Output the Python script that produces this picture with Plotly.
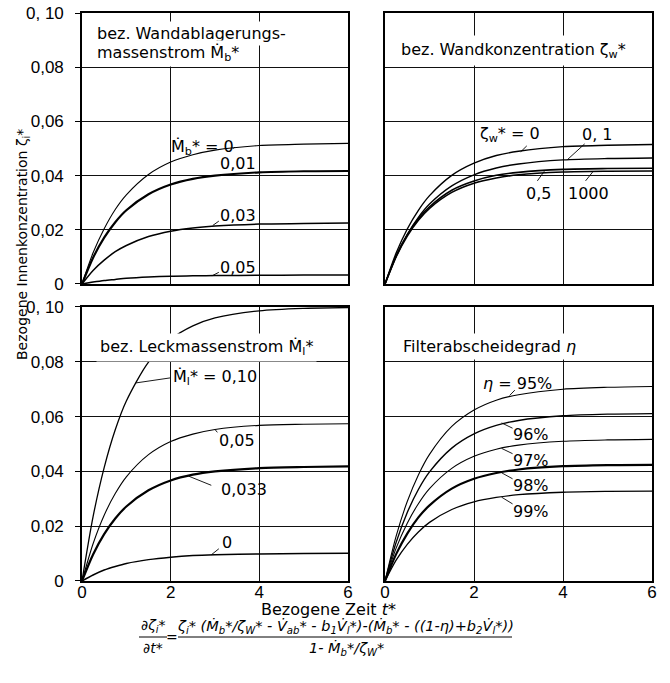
import plotly.graph_objects as go

# ---------------- data ----------------
t = [0, 0.25, 0.5, 0.75, 1, 1.5, 2, 2.5, 3, 4, 5, 6]

# panel 1: bez. Wandablagerungsmassenstrom Mb*
mb_0 = [0, 0.0115, 0.0204, 0.0275, 0.0329, 0.0404, 0.0450, 0.0477, 0.0494, 0.0511, 0.0516, 0.0519]
mb_001 = [0, 0.0097, 0.0171, 0.0228, 0.0272, 0.0331, 0.0367, 0.0388, 0.0400, 0.0412, 0.0416, 0.0417]
mb_003 = [0, 0.0050, 0.0088, 0.0119, 0.0142, 0.0175, 0.0195, 0.0207, 0.0214, 0.0221, 0.0223, 0.0225]
mb_005 = [0, 0.0007, 0.0013, 0.0017, 0.0021, 0.0026, 0.0029, 0.0030, 0.0031, 0.0032, 0.0033, 0.0033]

# panel 2: bez. Wandkonzentration zeta_w*
zw_0 = [0, 0.0114, 0.0203, 0.0272, 0.0326, 0.0401, 0.0446, 0.0474, 0.0490, 0.0507, 0.0512, 0.0515]
zw_01 = [0, 0.0103, 0.0183, 0.0246, 0.0295, 0.0362, 0.0403, 0.0428, 0.0443, 0.0458, 0.0463, 0.0465]
zw_05 = [0, 0.0103, 0.0181, 0.0241, 0.0285, 0.0346, 0.0380, 0.0401, 0.0412, 0.0423, 0.0426, 0.0427]
zw_1000 = [0, 0.0100, 0.0177, 0.0235, 0.0279, 0.0338, 0.0372, 0.0391, 0.0403, 0.0413, 0.0416, 0.0417]

# panel 3: bez. Leckmassenstrom Ml*
ml_010 = [0, 0.0235, 0.0414, 0.0552, 0.0657, 0.0799, 0.0882, 0.0931, 0.0960, 0.0986, 0.0995, 0.0998]
ml_005 = [0, 0.0136, 0.0240, 0.0319, 0.0380, 0.0461, 0.0509, 0.0536, 0.0553, 0.0568, 0.0572, 0.0574]
ml_0033 = [0, 0.0097, 0.0171, 0.0228, 0.0272, 0.0331, 0.0367, 0.0388, 0.0400, 0.0412, 0.0416, 0.0418]
ml_0 = [0, 0.0022, 0.0040, 0.0053, 0.0064, 0.0078, 0.0087, 0.0093, 0.0096, 0.0099, 0.0100, 0.0101]

# panel 4: Filterabscheidegrad eta
eta_95 = [0, 0.0164, 0.0290, 0.0387, 0.0462, 0.0564, 0.0624, 0.0660, 0.0680, 0.0700, 0.0707, 0.0710]
eta_96 = [0, 0.0141, 0.0250, 0.0334, 0.0398, 0.0485, 0.0537, 0.0568, 0.0586, 0.0603, 0.0609, 0.0611]
eta_97 = [0, 0.0120, 0.0211, 0.0282, 0.0337, 0.0411, 0.0455, 0.0481, 0.0496, 0.0510, 0.0515, 0.0517]
eta_98 = [0, 0.0098, 0.0173, 0.0232, 0.0276, 0.0337, 0.0373, 0.0394, 0.0407, 0.0419, 0.0423, 0.0424]
eta_99 = [0, 0.0076, 0.0134, 0.0179, 0.0214, 0.0261, 0.0289, 0.0305, 0.0315, 0.0324, 0.0327, 0.0328]

y_tickvals = [0, 0.02, 0.04, 0.06, 0.08, 0.10]
y_ticktext = ["0", "0,02", "0,04", "0,06", "0,08", "0, 10"]
x_tickvals = [0, 2, 4, 6]
x_ticktext = ["0", "2", "4", "6"]

NUMFONT = "Liberation Sans"
FONT = "DejaVu Sans"
THIN = 1.1
THICK = 2.2

panels = [
    ("x", "y", [(mb_0, THIN), (mb_001, THICK), (mb_003, THIN + 0.4), (mb_005, THIN + 0.4)]),
    ("x2", "y2", [(zw_0, THIN + 0.3), (zw_01, THIN + 0.3), (zw_05, 1.6), (zw_1000, 1.6)]),
    ("x3", "y3", [(ml_010, THIN + 0.2), (ml_005, THIN), (ml_0033, THICK), (ml_0, THIN + 0.4)]),
    ("x4", "y4", [(eta_95, THIN), (eta_96, THIN + 0.3), (eta_97, THIN), (eta_98, THICK), (eta_99, THIN + 0.2)]),
]

fig = go.Figure()
for xa, ya, curves in panels:
    for vals, w in curves:
        fig.add_trace(go.Scatter(x=t, y=vals, xaxis=xa, yaxis=ya, mode="lines",
                                 line=dict(color="black", width=w, shape="spline", smoothing=0.8),
                                 hoverinfo="skip", showlegend=False))

xl = [0, 0.4667]
xr = [0.5316, 1]
yt = [0.5229, 1]
yb = [0, 0.4824]

def xaxis(domain, anchor, labels):
    return dict(domain=domain, anchor=anchor, range=[0, 6], tickvals=x_tickvals, ticktext=x_ticktext,
                showticklabels=labels, ticks="", showgrid=True, gridcolor="#111", gridwidth=1,
                showline=True, linecolor="black", linewidth=1.6, mirror=True, zeroline=False,
                automargin=False, ticklabeloverflow="allow",
                tickfont=dict(family=NUMFONT, size=17, color="black"), ticklabelstandoff=-5)

def yaxis(domain, anchor, labels):
    return dict(domain=domain, anchor=anchor, range=[0, 0.10], tickvals=y_tickvals, ticktext=y_ticktext,
                showticklabels=labels, ticks="outside" if labels else "", ticklen=5, tickcolor="black",
                showgrid=True, gridcolor="#111", gridwidth=1,
                showline=True, linecolor="black", linewidth=1.6, mirror=True, zeroline=False,
                automargin=False, ticklabeloverflow="allow",
                tickfont=dict(family=NUMFONT, size=17, color="black"), ticklabelstandoff=8)

fig.update_layout(
    width=670, height=683,
    margin=dict(l=82, r=18, t=13, b=102, autoexpand=False),
    paper_bgcolor="white", plot_bgcolor="white",
    font=dict(family=FONT, size=16, color="black"),
    showlegend=False,
    xaxis=xaxis(xl, "y", False), yaxis=yaxis(yt, "x", True),
    xaxis2=xaxis(xr, "y2", False), yaxis2=yaxis(yt, "x2", False),
    xaxis3=xaxis(xl, "y3", True), yaxis3=yaxis(yb, "x3", True),
    xaxis4=xaxis(xr, "y4", True), yaxis4=yaxis(yb, "x4", False),
)

anns = []

def label(text, x, y, xr_, yr_, xanchor="center", size=16, bg=None, pad=1):
    a = dict(text=text, x=x, y=y, xref=xr_, yref=yr_, showarrow=False, xanchor=xanchor,
             yanchor="middle", font=dict(family=FONT, size=size, color="black"), borderpad=pad)
    if bg:
        a["bgcolor"] = bg
    anns.append(a)

def leader(x, y, ax, ay, xr_, yr_):
    anns.append(dict(text="", x=x, y=y, ax=ax, ay=ay, xref=xr_, yref=yr_, axref=xr_, ayref=yr_,
                     showarrow=True, arrowhead=0, arrowwidth=0.9, arrowcolor="black", standoff=0,
                     startstandoff=0))

# panel titles (white boxes hide grid lines behind them)
label("bez. Wandablagerungs-", 0.28, 0.0926, "x", "y", xanchor="left", bg="white", pad=2)
label("massenstrom Ṁ<sub>b</sub>*", 0.28, 0.0850, "x", "y", xanchor="left", bg="white", pad=2)
label("bez. Wandkonzentration ζ<sub>w</sub>*", 0.25, 0.0863, "x2", "y2", xanchor="left", bg="white", pad=4)
label("bez. Leckmassenstrom Ṁ<sub>l</sub>*", 0.32, 0.0853, "x3", "y3", xanchor="left", bg="white", pad=3)
label("Filterabscheidegrad <i>η</i>", 0.31, 0.0856, "x4", "y4", xanchor="left", bg="white", pad=3)

# panel 1 labels
label("Ṁ<sub>b</sub>* = 0", 2.72, 0.0505, "x", "y")
leader(3.45, 0.0505, 3.38, 0.0495, "x", "y")
label("0,01", 3.52, 0.0445, "x", "y")
label("0,03", 3.52, 0.0252, "x", "y")
leader(2.95, 0.0216, 3.12, 0.0236, "x", "y")
label("0,05", 3.52, 0.0060, "x", "y")
leader(2.93, 0.0030, 3.12, 0.0046, "x", "y")

# panel 2 labels
label("ζ<sub>w</sub>* = 0", 2.82, 0.0550, "x2", "y2")
leader(3.05, 0.0488, 3.22, 0.0515, "x2", "y2")
label("0, 1", 4.78, 0.0552, "x2", "y2")
leader(4.1, 0.0459, 4.52, 0.0522, "x2", "y2")
label("0,5", 3.45, 0.0335, "x2", "y2")
leader(3.58, 0.0416, 3.40, 0.0375, "x2", "y2")
label("1000", 4.58, 0.0335, "x2", "y2")
leader(4.68, 0.0416, 4.48, 0.0375, "x2", "y2")

# panel 3 labels
label("Ṁ<sub>l</sub>* = 0,10", 3.0, 0.0742, "x3", "y3")
leader(1.22, 0.0723, 2.02, 0.0742, "x3", "y3")
label("0,05", 3.5, 0.0512, "x3", "y3")
leader(3.0, 0.0553, 3.08, 0.0537, "x3", "y3")
label("0,033", 3.65, 0.0335, "x3", "y3")
leader(2.4, 0.0383, 2.95, 0.0347, "x3", "y3")
label("0", 3.27, 0.0140, "x3", "y3")
leader(2.92, 0.0096, 3.12, 0.0122, "x3", "y3")

# panel 4 labels
label("<i>η</i> = 95%", 2.98, 0.0722, "x4", "y4")
leader(2.8, 0.0677, 2.95, 0.0702, "x4", "y4")
label("96%", 3.28, 0.0535, "x4", "y4")
leader(2.62, 0.0577, 2.9, 0.0555, "x4", "y4")
label("97%", 3.28, 0.0440, "x4", "y4")
leader(2.62, 0.0484, 2.9, 0.0462, "x4", "y4")
label("98%", 3.28, 0.0347, "x4", "y4")
leader(2.62, 0.0395, 2.9, 0.0370, "x4", "y4")
label("99%", 3.28, 0.0254, "x4", "y4")
leader(2.62, 0.0306, 2.9, 0.0278, "x4", "y4")

# paper coordinates from page pixels (plot area x 82-652, y 13-581)
def px2paper(px, py):
    return (px - 82) / 570, (581 - py) / 568

# axis titles
ax_, ay_ = px2paper(23, 245)
anns.append(dict(text="Bezogene Innenkonzentration ζ<sub>i</sub>*", x=ax_, y=ay_, xref="paper", yref="paper",
                 showarrow=False, textangle=-90, font=dict(family=FONT, size=14, color="black"),
                 xanchor="center", yanchor="middle"))
ax_, ay_ = px2paper(328, 609)
anns.append(dict(text="Bezogene Zeit <i>t</i>*", x=ax_, y=ay_, xref="paper", yref="paper",
                 showarrow=False, font=dict(family=FONT, size=16, color="black"),
                 xanchor="center", yanchor="middle"))

# formula
def ptxt(text, px, py, size=14.5, xanchor="center"):
    x, y = px2paper(px, py)
    anns.append(dict(text=text, x=x, y=y, xref="paper", yref="paper",
                     showarrow=False, font=dict(family=FONT, size=size, color="black"),
                     xanchor=xanchor, yanchor="middle"))

ptxt("<i>∂ζ<sub>i</sub>*</i>", 153, 626, size=14)
ptxt("<i>∂t*</i>", 153, 648, size=14)
ptxt("=", 172, 637, size=14)
ptxt("<i>ζ<sub>i</sub>* (Ṁ<sub>b</sub>*/ζ<sub>W</sub>* - V̇<sub>ab</sub>* - b<sub>1</sub>V̇<sub>l</sub>*)-(Ṁ<sub>b</sub>* - ((1-η)+b<sub>2</sub>V̇<sub>l</sub>*))</i>", 345, 626)
ptxt("<i>1- Ṁ<sub>b</sub>*/ζ<sub>W</sub>*</i>", 346, 648)

fig.update_layout(annotations=anns)

def frac_line(x0, x1, py):
    a0, b0 = px2paper(x0, py)
    a1, _ = px2paper(x1, py)
    fig.add_shape(type="line", xref="paper", yref="paper", x0=a0, x1=a1, y0=b0, y1=b0,
                  line=dict(color="black", width=1))

frac_line(139, 167, 637)
frac_line(178, 512, 637)

fig.write_html("out.html", config={"displayModeBar": False},
               post_script="document.body.style.margin='0px';")
